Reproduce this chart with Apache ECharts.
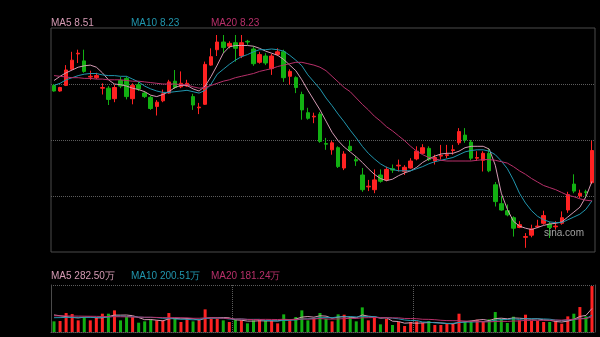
<!DOCTYPE html>
<html>
<head>
<meta charset="utf-8">
<script src="https://cdn.jsdelivr.net/npm/echarts@6.0.0/dist/echarts.min.js"></script>
<style>
  html, body { margin: 0; padding: 0; background: #000; }
  #chart { width: 600px; height: 337px; }
</style>
</head>
<body>
<div id="chart"></div>
<script>
// Daily K-line: [open, close, low, high]
const ohlc = [
  [9.88, 9.80, 9.79, 9.90], [9.80, 9.85, 9.79, 9.86], [9.88, 10.10, 9.87, 10.17], [10.11, 10.24, 10.10, 10.36],
  [10.33, 10.34, 10.20, 10.39], [10.23, 10.08, 10.06, 10.39], [10.00, 10.01, 9.96, 10.09], [9.99, 10.02, 9.97, 10.06],
  [9.84, 9.85, 9.75, 9.91], [9.84, 9.68, 9.60, 9.87], [9.69, 9.85, 9.64, 9.89], [9.95, 9.87, 9.84, 10.00],
  [9.98, 9.72, 9.68, 10.01], [9.69, 9.88, 9.61, 9.91], [9.89, 9.83, 9.80, 9.93], [9.77, 9.72, 9.70, 9.80],
  [9.71, 9.55, 9.53, 9.73], [9.58, 9.64, 9.45, 9.67], [9.66, 9.76, 9.64, 9.82], [9.77, 9.93, 9.76, 9.96],
  [9.94, 9.85, 9.83, 10.10], [9.86, 9.91, 9.84, 10.08], [9.87, 9.91, 9.86, 9.96], [9.72, 9.60, 9.53, 9.76],
  [9.56, 9.57, 9.47, 9.63], [9.61, 10.18, 9.60, 10.22], [10.17, 10.29, 10.16, 10.41], [10.39, 10.50, 10.30, 10.60],
  [10.50, 10.42, 10.34, 10.60], [10.44, 10.48, 10.41, 10.51], [10.49, 10.41, 10.22, 10.60], [10.30, 10.49, 10.27, 10.60],
  [10.51, 10.50, 10.46, 10.53], [10.40, 10.19, 10.16, 10.44], [10.21, 10.32, 10.19, 10.36], [10.30, 10.20, 10.17, 10.34],
  [10.12, 10.30, 10.03, 10.33], [10.32, 10.36, 10.30, 10.41], [10.36, 9.99, 9.93, 10.39], [10.01, 10.08, 9.89, 10.11],
  [9.99, 9.85, 9.77, 10.01], [9.75, 9.53, 9.39, 9.79], [9.49, 9.41, 9.39, 9.56], [9.43, 9.44, 9.34, 9.49],
  [9.47, 9.08, 9.06, 9.50], [9.05, 9.04, 8.96, 9.13], [8.96, 9.06, 8.89, 9.09], [8.99, 8.72, 8.70, 9.01],
  [8.70, 8.90, 8.67, 8.94], [9.01, 8.95, 8.93, 9.10], [8.82, 8.80, 8.73, 8.87], [8.60, 8.39, 8.36, 8.70],
  [8.43, 8.44, 8.37, 8.53], [8.39, 8.53, 8.34, 8.68], [8.60, 8.51, 8.49, 8.68], [8.53, 8.68, 8.51, 8.72],
  [8.69, 8.67, 8.63, 8.75], [8.73, 8.74, 8.65, 8.82], [8.65, 8.71, 8.60, 8.74], [8.70, 8.80, 8.69, 8.84],
  [8.83, 8.94, 8.81, 9.01], [8.91, 8.99, 8.90, 9.04], [8.98, 8.82, 8.80, 9.01], [8.80, 8.85, 8.75, 8.89],
  [8.87, 8.88, 8.82, 9.03], [8.88, 8.89, 8.84, 9.03], [8.95, 8.96, 8.89, 9.03], [9.06, 9.22, 9.03, 9.27],
  [9.17, 9.10, 9.06, 9.27], [9.07, 8.84, 8.81, 9.10], [8.84, 8.85, 8.80, 8.94], [8.81, 8.91, 8.65, 8.94],
  [8.91, 8.66, 8.64, 8.98], [8.46, 8.22, 8.15, 8.50], [8.19, 8.10, 8.09, 8.30], [8.09, 8.03, 8.01, 8.18],
  [7.99, 7.84, 7.72, 8.01], [7.85, 7.89, 7.84, 7.94], [7.71, 7.72, 7.56, 7.77], [7.74, 7.83, 7.71, 7.89],
  [7.86, 7.87, 7.84, 7.96], [7.91, 8.02, 7.89, 8.09], [7.90, 7.85, 7.70, 7.93], [7.86, 7.87, 7.82, 7.94],
  [7.91, 7.99, 7.89, 8.08], [8.10, 8.32, 8.06, 8.36], [8.47, 8.37, 8.34, 8.61], [8.30, 8.34, 8.27, 8.39],
  [8.36, 8.35, 8.27, 8.39], [8.49, 8.95, 8.47, 9.09]
];

// Price moving averages
const ma5 = [
  9.95, 10.01, 10.06, 10.10, 10.14, 10.16, 10.17, 10.14, 10.06, 9.96,
  9.90, 9.89, 9.87, 9.84, 9.82, 9.79, 9.74, 9.72, 9.75, 9.79,
  9.85, 9.88, 9.88, 9.83, 9.80, 9.87, 10.01, 10.17, 10.34, 10.43,
  10.45, 10.45, 10.45, 10.44, 10.41, 10.37, 10.34, 10.31, 10.25, 10.17,
  10.09, 9.96, 9.81, 9.67, 9.53, 9.37, 9.21, 9.09, 9.00, 8.93,
  8.86, 8.78, 8.69, 8.61, 8.55, 8.52, 8.54, 8.59, 8.63, 8.66,
  8.71, 8.78, 8.83, 8.87, 8.90, 8.91, 8.91, 8.94, 8.99, 9.01,
  9.01, 9.01, 8.97, 8.74, 8.34, 8.11, 7.94, 7.87, 7.84, 7.82,
  7.85, 7.88, 7.90, 7.91, 7.93, 8.00, 8.07, 8.14, 8.29, 8.51
];
const ma10 = [
  9.88, 9.91, 9.96, 9.99, 10.02, 10.04, 10.05, 10.05, 10.03, 10.02,
  10.02, 10.01, 10.01, 9.97, 9.93, 9.87, 9.83, 9.80, 9.78, 9.78,
  9.79, 9.80, 9.81, 9.79, 9.77, 9.81, 9.90, 10.04, 10.11, 10.18,
  10.24, 10.29, 10.32, 10.36, 10.39, 10.39, 10.40, 10.39, 10.37, 10.31,
  10.24, 10.16, 10.03, 9.93, 9.83, 9.70, 9.59, 9.47, 9.36, 9.24,
  9.13, 9.01, 8.91, 8.83, 8.76, 8.71, 8.68, 8.66, 8.66, 8.66,
  8.69, 8.72, 8.76, 8.79, 8.81, 8.83, 8.85, 8.89, 8.93, 8.95,
  8.96, 8.96, 8.94, 8.89, 8.80, 8.69, 8.53, 8.34, 8.20, 8.09,
  8.01, 7.96, 7.93, 7.92, 7.92, 7.96, 8.00, 8.04, 8.11, 8.23
];
const ma20 = [
  10.02, 10.01, 10.00, 9.99, 9.99, 9.98, 9.98, 9.97, 9.97, 9.96,
  9.96, 9.96, 9.95, 9.94, 9.94, 9.93, 9.92, 9.91, 9.90, 9.90,
  9.90, 9.89, 9.89, 9.86, 9.84, 9.85, 9.88, 9.91, 9.94, 9.96,
  9.99, 10.01, 10.03, 10.05, 10.08, 10.10, 10.12, 10.15, 10.17, 10.19,
  10.21, 10.21, 10.19, 10.17, 10.14, 10.09, 10.01, 9.93, 9.85, 9.79,
  9.70, 9.61, 9.53, 9.44, 9.37, 9.29, 9.23, 9.16, 9.09, 9.01,
  8.94, 8.89, 8.85, 8.83, 8.81, 8.80, 8.80, 8.80, 8.80, 8.80,
  8.81, 8.82, 8.82, 8.81, 8.79, 8.77, 8.72, 8.66, 8.61, 8.55,
  8.50, 8.45, 8.42, 8.39, 8.35, 8.31, 8.29, 8.26, 8.24, 8.23
];

// Volume, in units of 10,000 shares
const volume = [
  128, 132, 228, 216, 140, 176, 140, 176, 220, 220,
  260, 140, 180, 180, 112, 128, 152, 140, 140, 228,
  160, 120, 160, 128, 140, 272, 160, 160, 140, 120,
  152, 140, 104, 140, 140, 140, 140, 104, 212, 140,
  180, 260, 140, 168, 228, 160, 128, 212, 208, 180,
  128, 296, 140, 172, 92, 160, 84, 120, 72, 120,
  128, 112, 132, 84, 84, 96, 96, 220, 120, 132,
  148, 132, 152, 240, 160, 108, 184, 140, 208, 132,
  132, 120, 120, 128, 100, 188, 220, 300, 188, 552
];
const volMa5 = [
  205, 195, 185, 175, 169, 178, 180, 170, 170, 186,
  203, 203, 204, 196, 174, 148, 150, 142, 134, 158,
  164, 158, 162, 159, 142, 164, 172, 172, 174, 170,
  146, 142, 131, 131, 135, 133, 133, 133, 147, 147,
  155, 179, 186, 178, 195, 191, 165, 179, 187, 178,
  171, 205, 190, 183, 166, 172, 130, 126, 106, 111,
  105, 110, 113, 115, 108, 102, 98, 116, 123, 133,
  143, 150, 137, 161, 166, 158, 169, 166, 160, 154,
  159, 146, 142, 126, 120, 131, 151, 187, 199, 282.50
];
const volMa10 = [
  172, 173, 175, 176, 176, 176, 175, 175, 176, 178,
  190, 191, 187, 183, 180, 175, 176, 173, 165, 166,
  156, 154, 152, 146, 150, 164, 165, 167, 166, 156,
  155, 157, 151, 152, 152, 139, 137, 132, 139, 141,
  144, 156, 159, 162, 171, 173, 172, 182, 182, 186,
  181, 185, 184, 185, 172, 171, 167, 158, 144, 138,
  138, 120, 119, 110, 109, 103, 104, 114, 119, 120,
  122, 124, 126, 142, 149, 150, 159, 151, 160, 160,
  158, 157, 154, 143, 137, 145, 148, 164, 162, 200.51
];
const volMa20 = [
  195, 194, 193, 192, 191, 190, 189, 188, 186, 185,
  184, 183, 182, 180, 179, 178, 177, 175, 173, 172,
  173, 172, 170, 165, 165, 170, 170, 170, 166, 161,
  156, 156, 152, 149, 151, 152, 151, 150, 153, 149,
  150, 157, 155, 157, 162, 156, 155, 157, 161, 164,
  163, 171, 172, 174, 172, 172, 170, 170, 163, 162,
  160, 153, 152, 148, 141, 137, 136, 136, 132, 129,
  130, 122, 123, 126, 129, 127, 132, 133, 140, 140,
  140, 141, 140, 143, 143, 148, 154, 158, 161, 181.24
];

const days = ohlc.map((_, i) => String(i + 1));

const UP = '#ff2222';
const DOWN = '#12b012';
const C_MA5 = '#d49ab3';
const C_MA10 = '#2196ae';
const C_MA20 = '#b8306a';
const FRAME = '#4a4a4a';
const DOT = '#5c5c5c';
const FONT = '10px "Liberation Sans", Arial, sans-serif';

const last = a => a[a.length - 1];

const volumeBars = volume.map((v, i) => ({
  value: v,
  itemStyle: { color: ohlc[i][1] >= ohlc[i][0] ? UP : DOWN }
}));

function maLine(name, data, color, xi, yi) {
  return {
    name, type: 'line', data, xAxisIndex: xi, yAxisIndex: yi,
    showSymbol: false, symbol: 'none', smooth: false,
    lineStyle: { color, width: 1 }, z: 3, silent: true
  };
}

const hidden = { show: false };

const chart = echarts.init(document.getElementById('chart'), null, { renderer: 'canvas' });
chart.setOption({
  backgroundColor: '#000',
  animation: false,
  grid: [
    { left: 51, top: 28, width: 544, height: 224, show: true, borderColor: FRAME, borderWidth: 1, backgroundColor: 'transparent' },
    { left: 51, top: 285, width: 544, height: 47 }
  ],
  xAxis: [
    { type: 'category', gridIndex: 0, data: days, boundaryGap: true,
      axisLine: hidden, axisTick: hidden, axisLabel: hidden, splitLine: hidden },
    { type: 'category', gridIndex: 1, data: days, boundaryGap: true,
      axisLine: { show: true, lineStyle: { color: DOT, type: 'dotted' } },
      axisTick: hidden, axisLabel: hidden,
      splitLine: { show: true, interval: (i) => i === 30 || i === 60, lineStyle: { color: DOT, type: 'dotted' } } }
  ],
  yAxis: [
    { type: 'value', gridIndex: 0, min: 7.5, max: 10.7, scale: true,
      axisLine: hidden, axisTick: hidden, axisLabel: hidden, splitLine: hidden },
    { type: 'value', gridIndex: 0, min: 0, max: 4, interval: 1, position: 'right',
      axisLine: hidden, axisTick: hidden, axisLabel: hidden,
      splitLine: { show: true, showMinLine: false, showMaxLine: false, lineStyle: { color: DOT, type: 'dotted' } } },
    { type: 'value', gridIndex: 1, min: 0, max: 565, interval: 565,
      axisLine: { show: true, lineStyle: { color: FRAME } }, axisTick: hidden, axisLabel: hidden,
      splitLine: { show: true, lineStyle: { color: DOT, type: 'dotted' } } },
    { type: 'value', gridIndex: 1, min: 0, max: 565, position: 'right',
      axisLine: { show: true, lineStyle: { color: FRAME } }, axisTick: hidden, axisLabel: hidden, splitLine: hidden }
  ],
  series: [
    {
      name: 'K', type: 'candlestick', data: ohlc, xAxisIndex: 0, yAxisIndex: 0,
      barWidth: 4, silent: true, z: 2,
      itemStyle: { color: UP, color0: DOWN, borderColor: UP, borderColor0: DOWN, borderWidth: 1 }
    },
    maLine('MA5', ma5, C_MA5, 0, 0),
    maLine('MA10', ma10, C_MA10, 0, 0),
    maLine('MA20', ma20, C_MA20, 0, 0),
    {
      name: 'VOL', type: 'bar', data: volumeBars, xAxisIndex: 1, yAxisIndex: 2,
      barWidth: 3, silent: true, z: 2
    },
    maLine('VMA5', volMa5, C_MA5, 1, 2),
    maLine('VMA10', volMa10, C_MA10, 1, 2),
    maLine('VMA20', volMa20, C_MA20, 1, 2)
  ],
  graphic: [
    { type: 'text', style: { x: 51, y: 23, text: 'MA5 ' + last(ma5).toFixed(2), fill: C_MA5, font: FONT, verticalAlign: 'middle' } },
    { type: 'text', style: { x: 131, y: 23, text: 'MA10 ' + last(ma10).toFixed(2), fill: C_MA10, font: FONT, verticalAlign: 'middle' } },
    { type: 'text', style: { x: 211, y: 23, text: 'MA20 ' + last(ma20).toFixed(2), fill: C_MA20, font: FONT, verticalAlign: 'middle' } },
    { type: 'text', style: { x: 51, y: 276, text: 'MA5 ' + last(volMa5).toFixed(2) + '万', fill: C_MA5, font: FONT, verticalAlign: 'middle' } },
    { type: 'text', style: { x: 131, y: 276, text: 'MA10 ' + last(volMa10).toFixed(2) + '万', fill: C_MA10, font: FONT, verticalAlign: 'middle' } },
    { type: 'text', style: { x: 211, y: 276, text: 'MA20 ' + last(volMa20).toFixed(2) + '万', fill: C_MA20, font: FONT, verticalAlign: 'middle' } },
    { type: 'text', z: 10, style: { x: 584, y: 233, text: 'sina.com', fill: '#a0a0a0', font: FONT, align: 'right', verticalAlign: 'middle' } }
  ]
});
</script>
</body>
</html>
